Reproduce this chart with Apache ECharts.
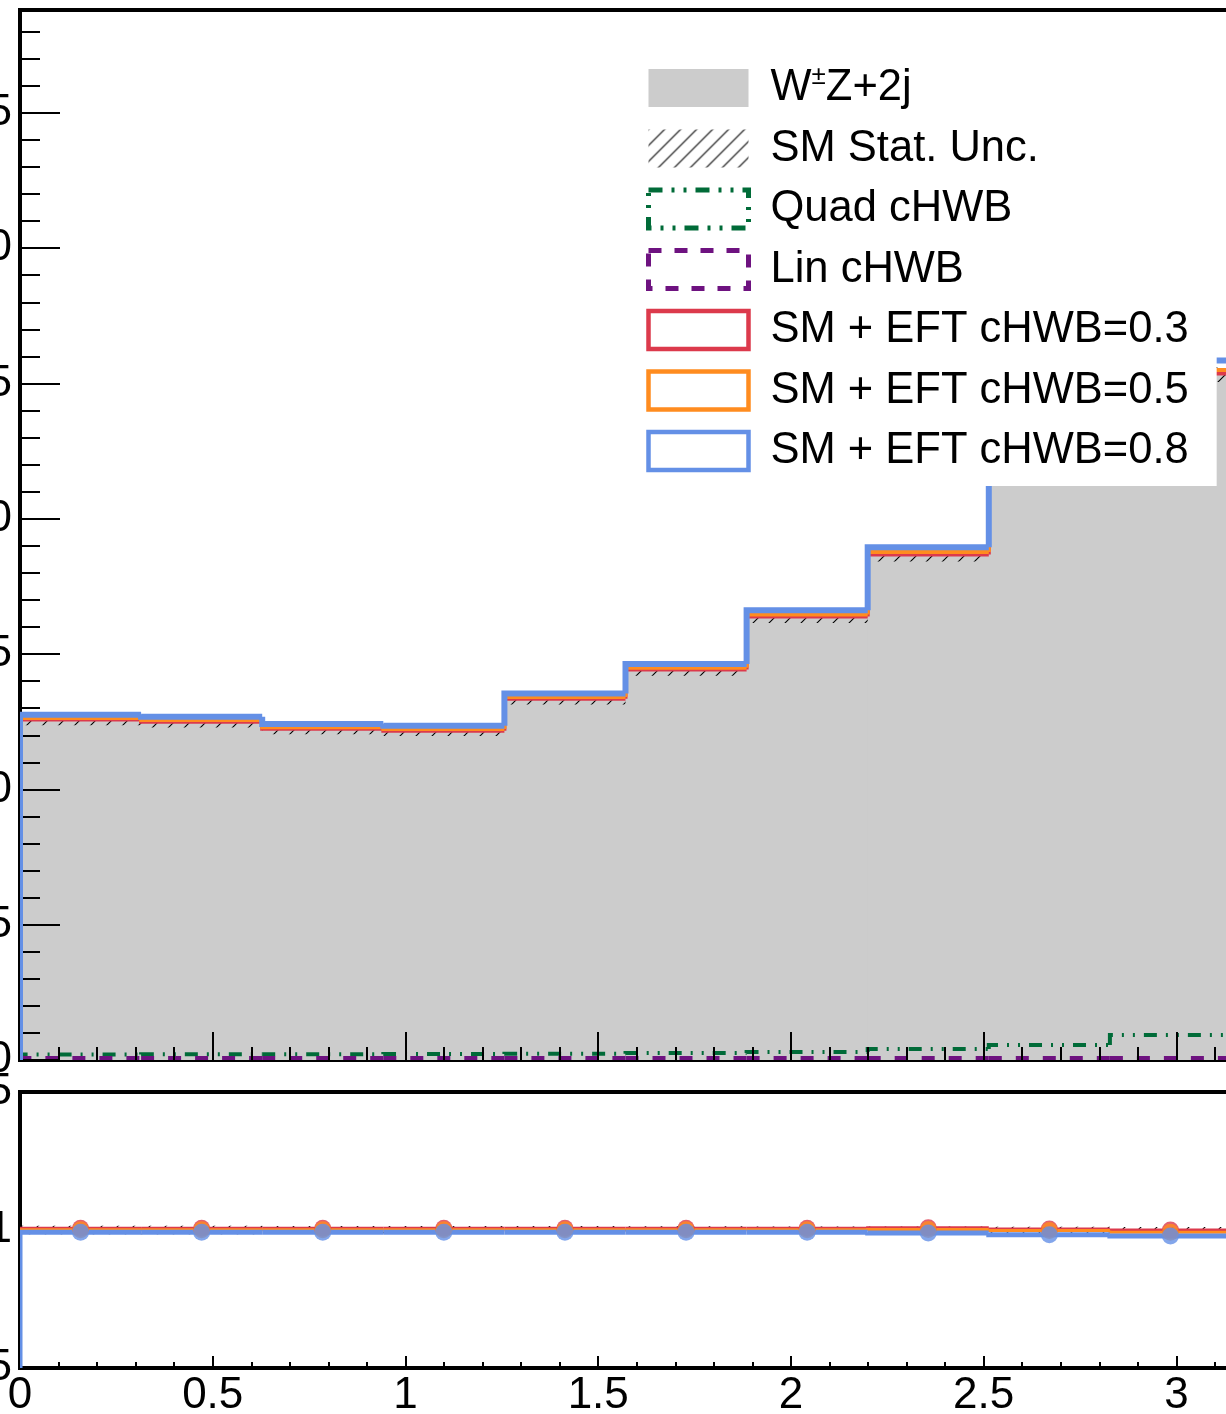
<!DOCTYPE html>
<html>
<head>
<meta charset="utf-8">
<script src="https://cdn.jsdelivr.net/npm/echarts@6/dist/echarts.min.js"></script>
<style>
html, body { margin: 0; padding: 0; background: #fff; }
#chart { width: 1226px; height: 1414px; }
</style>
</head>
<body>
<div id="chart"></div>
<script>
// 10 bins from 0 to pi
var binEdges = [0, 0.31416, 0.62832, 0.94248, 1.25664, 1.5708, 1.88496, 2.19911, 2.51327, 2.82743, 3.14159];

var smValues   = [12.56, 12.48, 12.22, 12.15, 13.33, 14.40, 16.36, 18.65, 22.80, 25.33];
var smStatUnc  = [0.19, 0.19, 0.18, 0.18, 0.19, 0.20, 0.21, 0.23, 0.26, 0.28];
var quadValues = [0.20, 0.21, 0.21, 0.22, 0.23, 0.26, 0.30, 0.41, 0.55, 0.92];
var linValues  = [0.06, 0.06, 0.06, 0.06, 0.06, 0.06, 0.06, 0.06, 0.06, 0.06];
var eft03 = [12.58, 12.50, 12.24, 12.17, 13.35, 14.43, 16.39, 18.68, 22.84, 25.37];
var eft05 = [12.64, 12.56, 12.30, 12.23, 13.41, 14.49, 16.46, 18.77, 22.95, 25.50];
var eft08 = [12.76, 12.68, 12.42, 12.35, 13.54, 14.63, 16.62, 18.95, 23.18, 25.85];

var ratio03 = [1.006, 1.006, 1.006, 1.006, 1.006, 1.006, 1.006, 1.008, 1.004, 1.000];
var ratio05 = [1.001, 1.001, 1.001, 1.001, 1.001, 1.001, 1.001, 1.002, 0.998, 0.992];
var ratio08 = [0.992, 0.992, 0.992, 0.992, 0.992, 0.992, 0.992, 0.989, 0.983, 0.978];

var FONT = "'Liberation Sans', Arial, Helvetica, sans-serif";
var GREEN = '#006b38', PURPLE = '#6e1280', RED = '#dc3a4c', ORANGE = '#ff8c1f', BLUE = '#6490e6';

// hatch fill like ROOT style 3004
var hatch = (function () {
    var c = document.createElement('canvas');
    c.width = 16; c.height = 16;
    var ctx = c.getContext('2d');
    ctx.strokeStyle = '#000';
    ctx.lineWidth = 1.1;
    ctx.beginPath();
    ctx.moveTo(0, 16); ctx.lineTo(16, 0);
    ctx.moveTo(-2, 2); ctx.lineTo(2, -2);
    ctx.moveTo(14, 18); ctx.lineTo(18, 14);
    ctx.stroke();
    return { image: c, repeat: 'repeat' };
})();

// one item per bin: [x0, x1, previous bin value, value]
function stepData(vals) {
    return vals.map(function (v, i) {
        return [binEdges[i], binEdges[i + 1], i === 0 ? 0 : vals[i - 1], v];
    });
}

function bandData(lo, hi) {
    return lo.map(function (l, i) {
        return [binEdges[i], binEdges[i + 1], l, hi[i]];
    });
}

function centers(vals) {
    return vals.map(function (v, i) {
        return [(binEdges[i] + binEdges[i + 1]) / 2, v];
    });
}

function clipOf(params) {
    var cs = params.coordSys;
    return { type: 'rect', shape: { x: cs.x, y: cs.y, width: cs.width, height: cs.height } };
}

function bandRenderer(fill, overlap) {
    return function (params, api) {
        var p0 = api.coord([api.value(0), api.value(3)]);
        var p1 = api.coord([api.value(1), api.value(2)]);
        return {
            type: 'rect', clipPath: clipOf(params),
            shape: { x: p0[0], y: p0[1], width: p1[0] - p0[0] + overlap, height: p1[1] - p0[1] },
            style: { fill: fill }
        };
    };
}

function stepLine(name, vals, color, width, dash, xi, z) {
    return {
        name: name, type: 'custom', xAxisIndex: xi, yAxisIndex: xi, z: z,
        data: stepData(vals), encode: { x: [0, 1], y: [3] },
        itemStyle: { color: color },
        renderItem: function (params, api) {
            var a = api.coord([api.value(0), api.value(2)]);
            var b = api.coord([api.value(0), api.value(3)]);
            var c = api.coord([api.value(1), api.value(3)]);
            return {
                type: 'polyline', clipPath: clipOf(params),
                shape: { points: [a, b, c] },
                style: { stroke: color, lineWidth: width, fill: null, lineDash: dash || null, lineJoin: 'miter', lineCap: 'butt' }
            };
        }
    };
}

var zeros = smValues.map(function () { return 0; });
var smLo = smValues.map(function (v, i) { return v - smStatUnc[i]; });
var smHi = smValues.map(function (v, i) { return v + smStatUnc[i]; });
var ratioLo = smValues.map(function (v, i) { return 1 - smStatUnc[i] / v; });
var ratioHi = smValues.map(function (v, i) { return 1 + smStatUnc[i] / v; });

var chart = echarts.init(document.getElementById('chart'));
chart.setOption({
    animation: false,
    backgroundColor: '#fff',
    grid: [
        { left: 20, top: 10, width: 1211, height: 1050, containLabel: false, outerBoundsMode: 'none', show: true, borderColor: '#000', borderWidth: 4, backgroundColor: 'transparent' },
        { left: 20, top: 1092, width: 1211, height: 276, containLabel: false, outerBoundsMode: 'none', show: true, borderColor: '#000', borderWidth: 4, backgroundColor: 'transparent' }
    ],
    xAxis: [
        {
            type: 'value', gridIndex: 0, min: 0, max: 3.14159, interval: 0.5, z: 3,
            axisLine: { show: false },
            axisTick: { show: true, inside: true, length: 28, lineStyle: { color: '#000', width: 2 } },
            minorTick: { show: true, splitNumber: 5, length: 13, lineStyle: { color: '#000', width: 2 } },
            axisLabel: { show: false },
            splitLine: { show: false }
        },
        {
            type: 'value', gridIndex: 1, min: 0, max: 3.14159, interval: 0.5, z: 3,
            axisLine: { show: false },
            axisTick: { show: true, inside: true, length: 12, lineStyle: { color: '#000', width: 2 } },
            minorTick: { show: true, splitNumber: 5, length: 6, lineStyle: { color: '#000', width: 2 } },
            axisLabel: {
                show: true, showMaxLabel: false, margin: 6, color: '#000', fontSize: 44, fontFamily: FONT,
                formatter: function (v) { return Math.abs(v * 2 - Math.round(v * 2)) < 1e-6 ? String(v) : ''; }
            },
            splitLine: { show: false }
        }
    ],
    yAxis: [
        {
            type: 'value', gridIndex: 0, min: 0, max: 38.8, interval: 5, z: 3,
            axisLine: { show: false },
            axisTick: { show: true, inside: true, length: 40, lineStyle: { color: '#000', width: 2 } },
            minorTick: { show: true, splitNumber: 5, length: 20, lineStyle: { color: '#000', width: 2 } },
            axisLabel: { show: true, showMaxLabel: false, margin: 8, color: '#000', fontSize: 44, fontFamily: FONT },
            splitLine: { show: false }
        },
        {
            type: 'value', gridIndex: 1, min: 0.5, max: 1.5, interval: 0.5, z: 3,
            axisLine: { show: false },
            axisTick: { show: false },
            axisLabel: { show: true, margin: 8, color: '#000', fontSize: 44, fontFamily: FONT },
            splitLine: { show: false }
        }
    ],
    legend: {
        orient: 'vertical', left: 626, top: 44, padding: [20, 28, 13, 20],
        backgroundColor: '#fff', z: 10, selectedMode: false,
        itemWidth: 100, itemHeight: 38, itemGap: 16.5,
        textStyle: {
            fontFamily: FONT, fontSize: 43.5, color: '#000', padding: [0, 0, 0, 17],
            rich: { sup: { fontFamily: FONT, fontSize: 26, color: '#000', padding: [0, 0, 22, 0] } }
        },
        formatter: function (name) { return name === 'W±Z+2j' ? 'W{sup|±}Z+2j' : name; },
        data: [
            { name: 'W±Z+2j', icon: 'rect', itemStyle: { color: '#cccccc', borderWidth: 0 } },
            { name: 'SM Stat. Unc.', icon: 'rect', itemStyle: { color: hatch, borderWidth: 0 } },
            { name: 'Quad cHWB', icon: 'rect', itemStyle: { color: 'rgba(255,255,255,0)', borderColor: GREEN, borderWidth: 5, borderType: [14, 9, 3, 9, 3, 9] } },
            { name: 'Lin cHWB', icon: 'rect', itemStyle: { color: 'rgba(255,255,255,0)', borderColor: PURPLE, borderWidth: 5, borderType: [13, 13] } },
            { name: 'SM + EFT cHWB=0.3', icon: 'rect', itemStyle: { color: 'rgba(255,255,255,0)', borderColor: RED, borderWidth: 4.5, borderType: 'solid' } },
            { name: 'SM + EFT cHWB=0.5', icon: 'rect', itemStyle: { color: 'rgba(255,255,255,0)', borderColor: ORANGE, borderWidth: 4.5, borderType: 'solid' } },
            { name: 'SM + EFT cHWB=0.8', icon: 'rect', itemStyle: { color: 'rgba(255,255,255,0)', borderColor: BLUE, borderWidth: 4.5, borderType: 'solid' } }
        ]
    },
    series: [
        {
            name: 'W±Z+2j', type: 'custom', xAxisIndex: 0, yAxisIndex: 0, z: 1,
            data: bandData(zeros, smValues), encode: { x: [0, 1], y: [2, 3] },
            itemStyle: { color: '#cccccc' },
            renderItem: bandRenderer('#cccccc', 1)
        },
        {
            name: 'SM Stat. Unc.', type: 'custom', xAxisIndex: 0, yAxisIndex: 0, z: 2,
            data: bandData(smLo, smHi), encode: { x: [0, 1], y: [2, 3] },
            renderItem: bandRenderer(hatch, 0), itemStyle: { color: '#000' }
        },
        stepLine('Quad cHWB', quadValues, GREEN, 4, [13, 9, 2, 9, 2, 9], 0, 3),
        stepLine('Lin cHWB', linValues, PURPLE, 5, [13, 14], 0, 3),
        stepLine('SM + EFT cHWB=0.3', eft03, RED, 4, null, 0, 4),
        stepLine('SM + EFT cHWB=0.5', eft05, ORANGE, 4, null, 0, 5),
        stepLine('SM + EFT cHWB=0.8', eft08, BLUE, 6, null, 0, 6),

        // ratio panel
        {
            name: 'ratio unc', type: 'custom', xAxisIndex: 1, yAxisIndex: 1, z: 2,
            data: bandData(ratioLo, ratioHi), encode: { x: [0, 1], y: [2, 3] },
            renderItem: bandRenderer(hatch, 0), itemStyle: { color: '#000' }
        },
        stepLine('ratio 0.3', ratio03, RED, 3, null, 1, 4),
        stepLine('ratio 0.5', ratio05, ORANGE, 3, null, 1, 5),
        stepLine('ratio 0.8', ratio08, BLUE, 5, null, 1, 6),
        { name: 'ratio 0.3 pts', type: 'scatter', xAxisIndex: 1, yAxisIndex: 1, z: 7, data: centers(ratio03), symbol: 'circle', symbolSize: 17, itemStyle: { color: RED } },
        { name: 'ratio 0.5 pts', type: 'scatter', xAxisIndex: 1, yAxisIndex: 1, z: 8, data: centers(ratio05), symbol: 'circle', symbolSize: 17, itemStyle: { color: ORANGE } },
        { name: 'ratio 0.8 pts', type: 'scatter', xAxisIndex: 1, yAxisIndex: 1, z: 9, data: centers(ratio08), symbol: 'circle', symbolSize: 17, itemStyle: { color: BLUE } }
    ]
});
</script>
</body>
</html>
